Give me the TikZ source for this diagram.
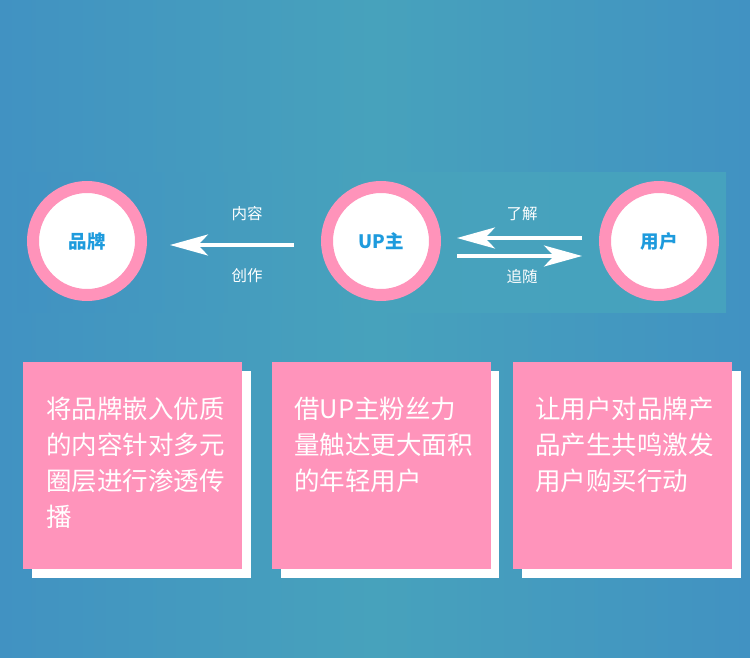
\documentclass[tikz,border=0pt]{standalone}
\usepackage{fontspec}
\newfontfamily\cjk{Noto Sans CJK SC}
\usetikzlibrary{arrows.meta,calc}
\definecolor{bgside}{HTML}{4192C2}
\definecolor{bgmid}{HTML}{47A2BC}
\definecolor{bandright}{HTML}{46A2BE}
\definecolor{pinkring}{HTML}{FF93BA}
\definecolor{pinkbox}{HTML}{FF94BB}
\definecolor{labelblue}{HTML}{1E9BDD}
\tikzset{
	ring/.style={circle, draw=pinkring, fill=white, line width=12pt, minimum size=108pt, inner sep=0pt,
		font=\cjk\bfseries\fontsize{18.5}{18.5}\selectfont, text=labelblue},
	flow/.style={draw=white, line width=3.5pt, -{Stealth[length=38pt, width=21pt, inset=10pt]}},
	flowlabel/.style={text=white, inner sep=0pt, font=\cjk\fontsize{15.5}{15.5}\selectfont},
	boxtext/.style={anchor=north west, text=white, inner sep=0pt, align=left,
		font=\cjk\fontsize{25.5}{36}\selectfont}
}
\begin{document}
\begin{tikzpicture}[x=1pt, y=-1pt]
			%%%%% START %%%%%
			
			\shade[left color=bgside, right color=bgside, middle color=bgmid] (0, 0) rectangle (750, 658);
			\useasboundingbox (0, 0) rectangle (750, 658);
			\shade[left color=bgside, right color=bandright, middle color=bgmid] (17, 173) rectangle (726, 312);
			
			\node[ring] (brand) at (87, 241) {品牌};
			\node[ring] (up) at (381, 241) {UP主};
			\node[ring] (user) at (659, 241) {用户};
			
			\draw[flow, shorten <=27pt, shorten >=23pt] ([yshift=-4pt]up.west) -- ([yshift=-4pt]brand.east);
			\draw[flow, shorten <=17pt, shorten >=16pt] ([yshift=3pt]user.west) -- ([yshift=3pt]up.east);
			\draw[flow, shorten <=16pt, shorten >=17pt] ([yshift=-15pt]up.east) -- ([yshift=-15pt]user.west);
			
			\node[flowlabel] (content) at (247, 214) {内容};
			\node[flowlabel] (create) at (247, 276) {创作};
			\node[flowlabel] (know) at (522, 214) {了解};
			\node[flowlabel] (follow) at (522, 277) {追随};
			
			\fill[white] (32, 371) rectangle (251, 578);
			\fill[pinkbox] (23, 362) rectangle (242, 569);
			\node[boxtext] (brandtext) at (46, 397) {将品牌嵌入优质\\的内容针对多元\\圈层进行渗透传\\播};
			
			\fill[white] (281, 371) rectangle (499, 578);
			\fill[pinkbox] (272, 362) rectangle (491, 569);
			\node[boxtext] (uptext) at (294, 397) {借UP主粉丝力\\量触达更大面积\\的年轻用户};
			
			\fill[white] (522, 371) rectangle (741, 578);
			\fill[pinkbox] (513, 362) rectangle (732, 569);
			\node[boxtext] (usertext) at (535, 397) {让用户对品牌产\\品产生共鸣激发\\用户购买行动};
			
			%%%%% END %%%%%
\end{tikzpicture}
\end{document}
